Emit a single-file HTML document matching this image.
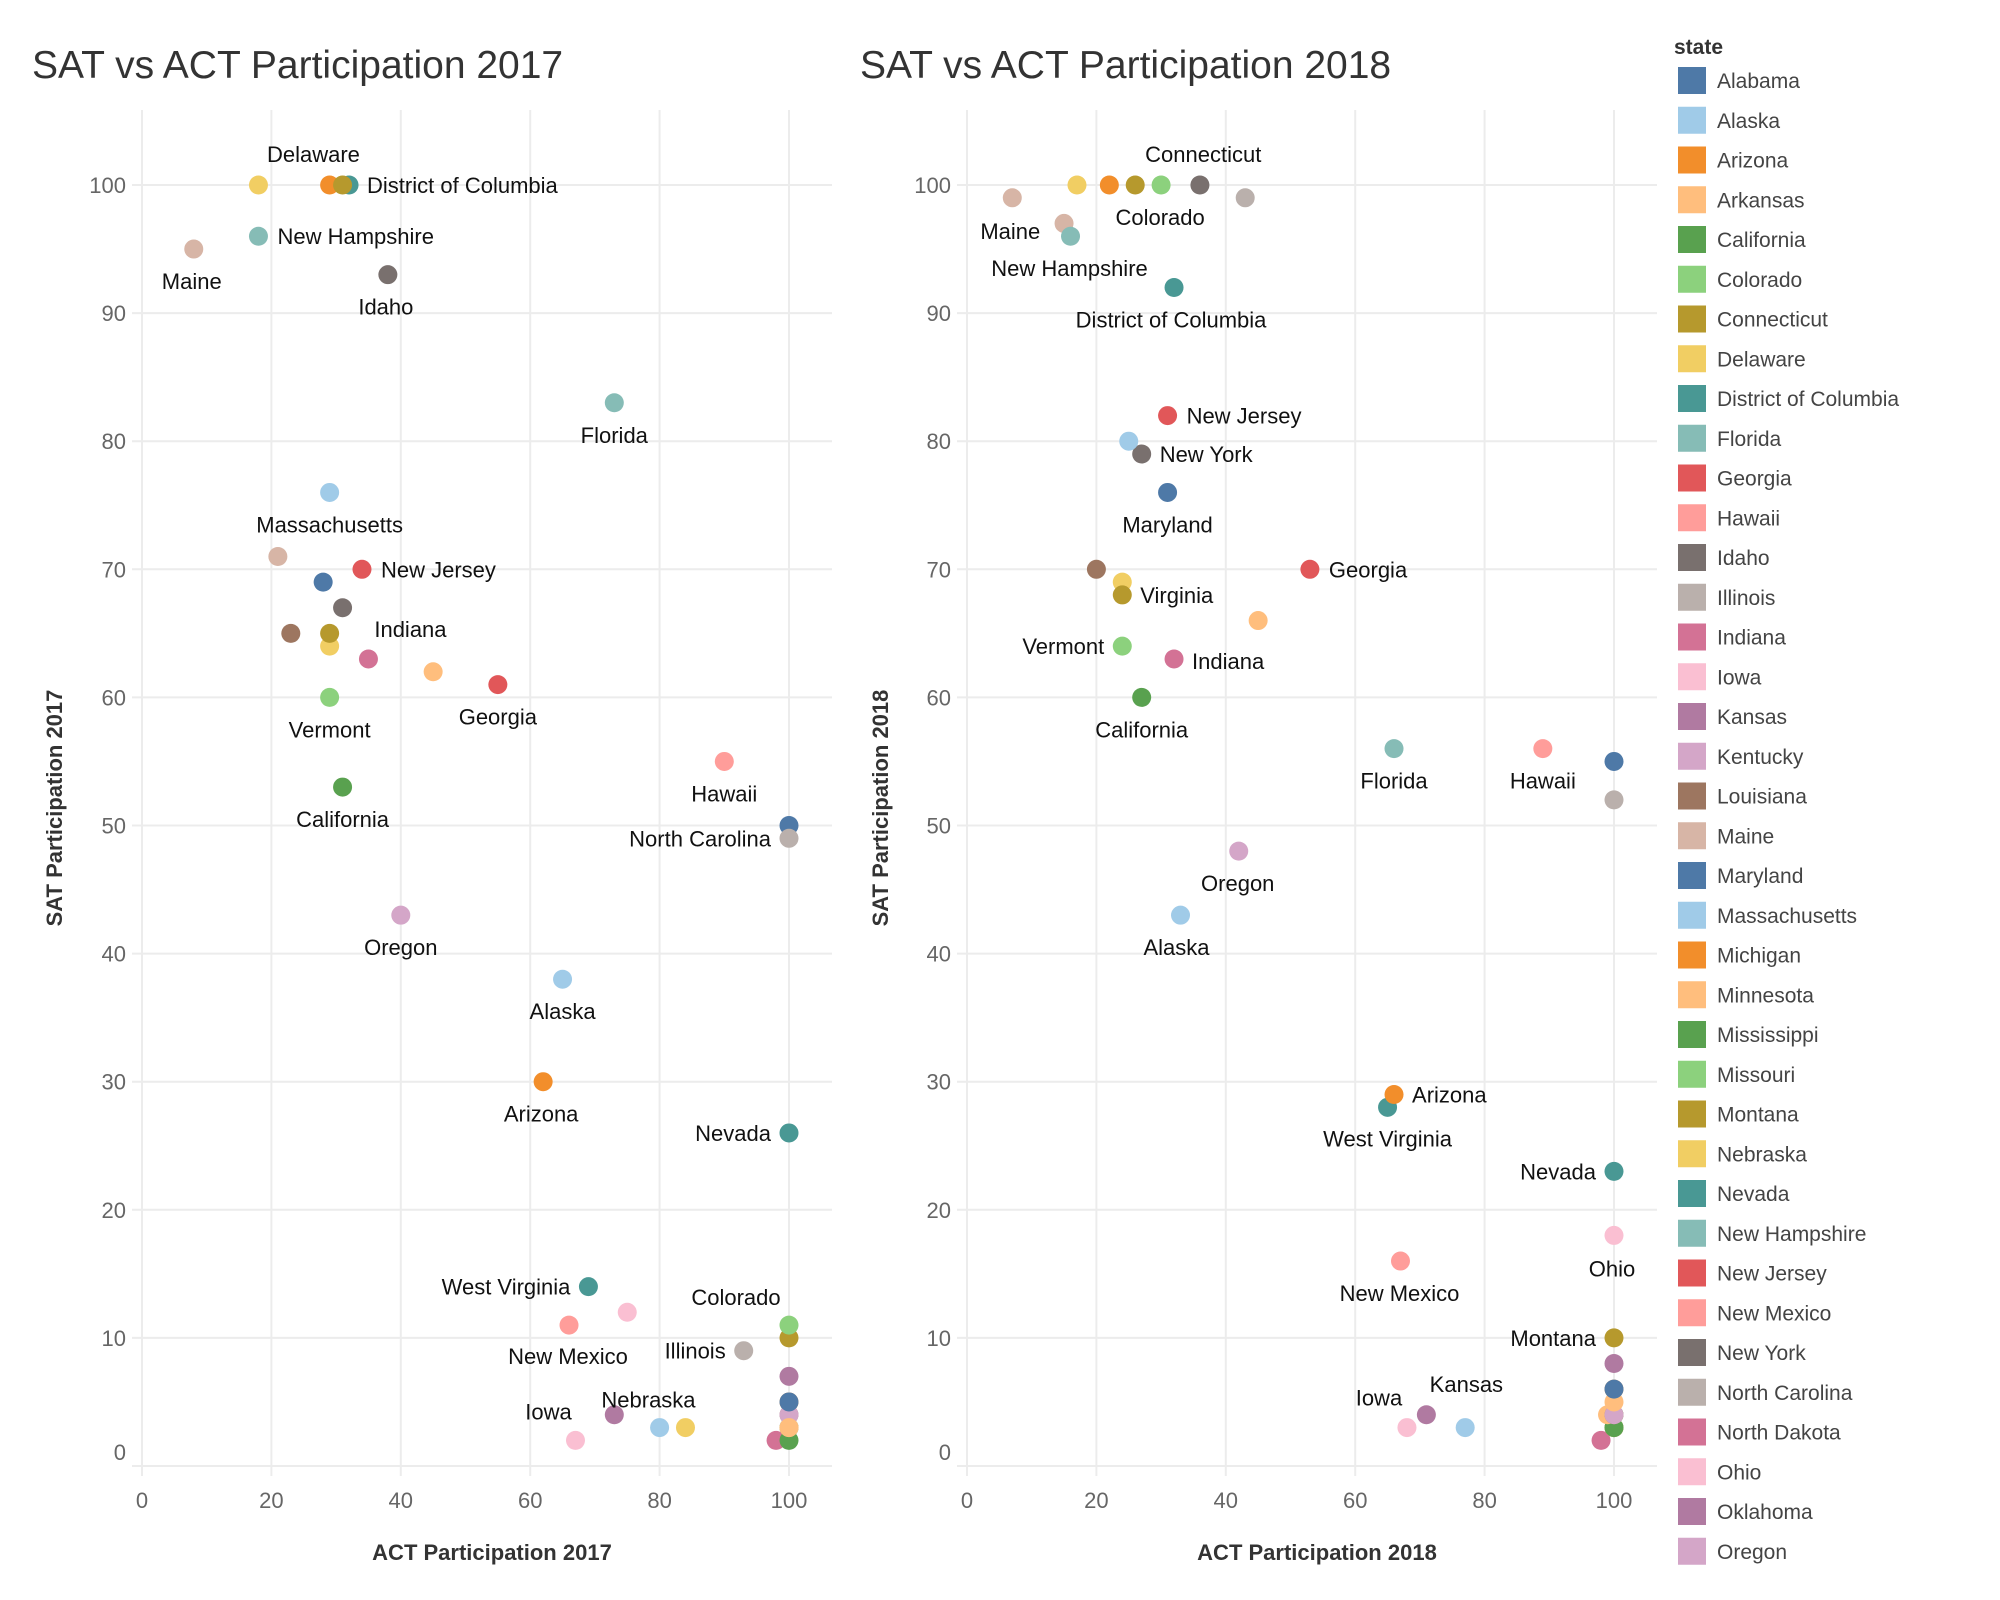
<!DOCTYPE html>
<html><head><meta charset="utf-8"><style>
html,body{margin:0;padding:0;background:#fff;}
svg{display:block;font-family:"Liberation Sans",sans-serif;}
</style></head><body>
<svg id="chart" width="2000" height="1600" viewBox="0 0 2000 1600" xmlns="http://www.w3.org/2000/svg">
<text x="32" y="78" font-size="39" fill="#333">SAT vs ACT Participation 2017</text>
<text x="860" y="78" font-size="39" fill="#333">SAT vs ACT Participation 2018</text>
<g id="p1"></g>
<g id="p2"></g>
<g id="legend"></g>
</svg>
<script>
const states=["Alabama","Alaska","Arizona","Arkansas","California","Colorado","Connecticut","Delaware","District of Columbia","Florida","Georgia","Hawaii","Idaho","Illinois","Indiana","Iowa","Kansas","Kentucky","Louisiana","Maine","Maryland","Massachusetts","Michigan","Minnesota","Mississippi","Missouri","Montana","Nebraska","Nevada","New Hampshire","New Jersey","New Mexico","New York","North Carolina","North Dakota","Ohio","Oklahoma","Oregon","Pennsylvania","Rhode Island","South Carolina","South Dakota","Tennessee","Texas","Utah","Vermont","Virginia","Washington","West Virginia","Wisconsin","Wyoming"];
const act2017=[100,65,62,100,31,100,31,18,32,73,55,90,38,93,35,67,73,100,100,8,28,29,29,100,100,100,100,84,100,18,34,66,31,100,98,75,100,40,23,21,100,80,100,45,100,29,29,29,69,100,100];
const sat2017=[5,38,30,3,53,11,100,100,100,83,61,55,93,9,63,2,4,4,4,95,69,76,100,3,2,3,10,3,26,96,70,11,67,49,2,12,7,43,65,71,50,3,5,62,3,60,65,64,14,3,3];
const act2018=[100,33,66,100,27,30,26,17,32,66,53,89,36,43,32,68,71,100,100,7,31,25,22,99,100,100,100,100,100,16,31,67,27,100,98,100,100,42,20,15,100,77,100,45,100,24,24,24,65,100,100];
const sat2018=[6,43,29,5,60,100,100,100,92,56,70,56,100,99,63,3,4,4,4,99,76,80,100,4,3,4,10,3,23,96,82,16,79,52,2,18,8,48,70,97,55,3,6,66,4,64,68,69,28,3,3];
const legendCount=38;
const xTicks=[0,20,40,60,80,100];
const yTicks=[0,10,20,30,40,50,60,70,80,90,100];
const palette=["#4e79a7","#a0cbe8","#f28e2b","#ffbe7d","#59a14f","#8cd17d","#b6992d","#f1ce63","#499894","#86bcb6","#e15759","#ff9d9a","#79706e","#bab0ac","#d37295","#fabfd2","#b07aa1","#d4a6c8","#9d7660","#d7b5a6"];
// label placement: [state, dx, dy, anchor]
const labels2017=[["Delaware",55,-31,"middle"],["District of Columbia",18,0,"start"],["New Hampshire",19,0,"start"],["Maine",-2,32,"middle"],["Idaho",-2,32,"middle"],["Florida",0,32,"middle"],["Massachusetts",0,32,"middle"],["New Jersey",19,0,"start"],["Indiana",42,-30,"middle"],["Vermont",0,32,"middle"],["Georgia",0,32,"middle"],["California",0,32,"middle"],["Hawaii",0,32,"middle"],["North Carolina",-18,0,"end"],["Oregon",0,32,"middle"],["Alaska",0,32,"middle"],["Arizona",-2,32,"middle"],["Nevada",-18,0,"end"],["West Virginia",-18,0,"end"],["Colorado",-53,-28,"middle"],["Illinois",-18,0,"end"],["New Mexico",-1,31,"middle"],["Nebraska",-37,-28,"middle"],["Iowa",-27,-29,"middle"]];
const labels2018=[["Connecticut",68,-31,"middle"],["Colorado",-1,32,"middle"],["Maine",-2,33,"middle"],["New Hampshire",-1,32,"middle"],["District of Columbia",-3,32,"middle"],["New Jersey",19,0,"start"],["New York",18,0,"start"],["Maryland",0,32,"middle"],["Georgia",19,0,"start"],["Virginia",18,0,"start"],["Vermont",-18,0,"end"],["Indiana",18,2,"start"],["California",0,32,"middle"],["Florida",0,32,"middle"],["Hawaii",0,32,"middle"],["Oregon",-1,32,"middle"],["Alaska",-4,32,"middle"],["Arizona",18,0,"start"],["West Virginia",0,31,"middle"],["Nevada",-18,0,"end"],["Ohio",-2,33,"middle"],["New Mexico",-1,32,"middle"],["Montana",-18,0,"end"],["Kansas",40,-31,"middle"],["Iowa",-28,-30,"middle"]];

const NS="http://www.w3.org/2000/svg";
function mk(tag,attrs,parent){const e=document.createElementNS(NS,tag);for(const k in attrs)e.setAttribute(k,attrs[k]);parent.appendChild(e);return e;}

function drawPlot(g,x0,actArr,satArr,labels,year,titleX){
  const sx=v=>x0+v*6.47;
  const sy=v=>1466-v*12.81;
  const left=x0-10, right=x0+690;
  for(const t of yTicks){
    const l=mk("line",{x1:left,x2:right,y1:sy(t),y2:sy(t),stroke:"#ececec","stroke-width":2},g);
    
    
    const tx=mk("text",{x:x0-16,y:sy(t)+(t===0?-6:8),"font-size":22,fill:"#666","text-anchor":"end"},g);
    tx.textContent=t;
    
    
  }
  for(const t of xTicks){
    const l=mk("line",{x1:sx(t),x2:sx(t),y1:110,y2:1476,stroke:"#ececec","stroke-width":2},g);
    
    
    const tx=mk("text",{x:sx(t),y:1508,"font-size":22,fill:"#666","text-anchor":"middle"},g);
    tx.textContent=t;
    
    
  }
  const xt=mk("text",{x:x0+350,y:1560,"font-size":22,"font-weight":"bold",fill:"#333","text-anchor":"middle"},g);
  xt.textContent="ACT Participation "+year;
  
  
  const yt=mk("text",{x:0,y:0,"font-size":22,"font-weight":"bold",fill:"#333","text-anchor":"middle",transform:`translate(${titleX},808) rotate(-90)`},g);
  yt.textContent="SAT Participation "+year;
  
  
  for(let i=states.length-1;i>=0;i--){
    const c=mk("circle",{cx:sx(actArr[i]),cy:sy(satArr[i]),r:9.5,fill:palette[i%20]},g);
    
    
  }
  for(const [s,dx,dy,a] of labels){
    const i=states.indexOf(s);
    const t=mk("text",{x:sx(actArr[i])+dx,y:sy(satArr[i])+dy+8,"font-size":22,fill:"#111","text-anchor":a},g);
    t.textContent=s;
    
    
  }
}
drawPlot(document.getElementById("p1"),142,act2017,sat2017,labels2017,"2017",62);
drawPlot(document.getElementById("p2"),967,act2018,sat2018,labels2018,"2018",888);

const lg=document.getElementById("legend");
const lt=mk("text",{x:1674,y:54,"font-size":21,"font-weight":"bold",fill:"#333"},lg);
lt.textContent="state";


for(let i=0;i<legendCount;i++){
  const y=67+i*39.75;
  const r=mk("rect",{x:1678,y:y,width:28,height:27,fill:palette[i%20]},lg);
  
  
  const t=mk("text",{x:1717,y:y+21,"font-size":21,fill:"#444"},lg);
  t.textContent=states[i];
  
  
}
</script>
</body></html>
